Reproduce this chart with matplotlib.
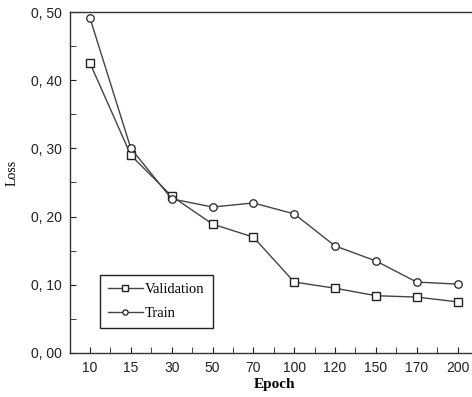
import matplotlib
matplotlib.use("Agg")
import matplotlib.pyplot as plt
from matplotlib.ticker import MultipleLocator, FixedLocator

epochs = ["10", "15", "30", "50", "70", "100", "120", "150", "170", "200"]
validation = [0.425, 0.290, 0.230, 0.189, 0.170, 0.104, 0.095, 0.084, 0.082, 0.075]
train = [0.491, 0.300, 0.226, 0.214, 0.220, 0.204, 0.157, 0.135, 0.104, 0.101]
yticks = [0.0, 0.1, 0.2, 0.3, 0.4, 0.5]
ytick_labels = ["0, 00", "0, 10", "0, 20", "0, 30", "0, 40", "0, 50"]

fig = plt.figure(figsize=(4.72, 3.97), dpi=100)
ax = fig.add_axes([70/472, 1 - 353/397, 410/472, 341/397])

x = list(range(len(epochs)))
lc = "#444444"
ax.plot(x, validation, color=lc, lw=1.0, marker="s", ms=5.6, mfc="white", mec="#222222", mew=1.0, label="Validation")
ax.plot(x, train, color=lc, lw=1.0, marker="o", ms=5.4, mfc="white", mec="#222222", mew=0.9, label="Train")

ax.set_xlim(-0.49, 9.55)
ax.set_ylim(0, 0.5)
ax.set_xticks(x)
ax.set_xticklabels(epochs, family="Liberation Sans", fontsize=10, color="#222222")
ax.xaxis.set_minor_locator(FixedLocator([i + 0.5 for i in range(-1, 10)]))
ax.set_yticks(yticks)
ax.set_yticklabels(ytick_labels, family="Liberation Sans", fontsize=10, color="#222222")
ax.yaxis.set_minor_locator(MultipleLocator(0.05))
ax.tick_params(axis="both", which="both", direction="in", color="#222222")
ax.tick_params(axis="both", which="major", length=4, pad=6)
ax.tick_params(axis="both", which="minor", length=4)
ax.tick_params(axis="y", which="both", right=False)
ax.tick_params(axis="x", which="both", top=False)
ax.spines["right"].set_visible(False)
for s in ["left", "bottom", "top"]:
    ax.spines[s].set_color("#333333")
    ax.spines[s].set_linewidth(1.0)

ax.set_xlabel("Epoch", family="Liberation Serif", fontsize=11, fontweight="bold", labelpad=2)
ax.set_ylabel("Loss", family="Liberation Serif", fontsize=10)
ax.yaxis.set_label_coords(-0.125, 0.528)

leg = ax.legend(loc="lower left", bbox_to_anchor=(0.073, 0.073), borderaxespad=0,
                prop={"family": "Liberation Serif", "size": 10.5},
                fancybox=False, framealpha=1, edgecolor="#222222", markerscale=0.7,
                handlelength=2.4, borderpad=0.55, labelspacing=0.75, handletextpad=0.15)
leg.get_frame().set_linewidth(1.0)

fig.savefig("out.png", dpi=100)
